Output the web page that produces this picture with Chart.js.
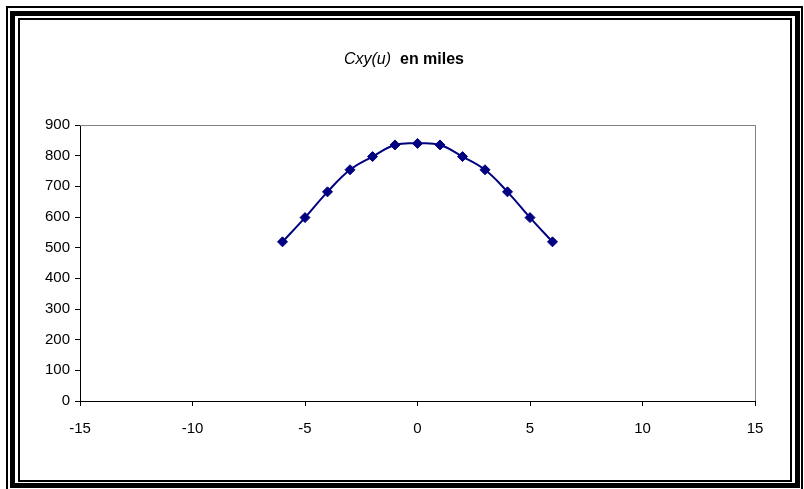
<!DOCTYPE html>
<html>
<head>
<meta charset="utf-8">
<script src="https://cdn.jsdelivr.net/npm/chart.js@4/dist/chart.umd.min.js"></script>
<style>
  html, body { margin: 0; padding: 0; background: #fff; }
  #wrap { position: relative; width: 804px; height: 489px; overflow: hidden; background: #fff; }
  canvas { position: absolute; left: 0; top: 0; }
  .fr { position: absolute; box-sizing: border-box; border-style: solid; border-color: #000; pointer-events: none; }
  #title { position: absolute; left: 2px; width: 804px; top: 50px; text-align: center; font-family: "Liberation Sans", Arial, sans-serif; font-size: 16px; line-height: 18px; color: #000; }
  #title .it { font-style: italic; }
  #title .bd { font-weight: bold; }
</style>
</head>
<body>
<div id="wrap">
  <canvas id="c" width="804" height="489"></canvas>
  <div class="fr" style="left:6px; top:6px; width:797px; height:490px; border-width:2px;"></div>
  <div class="fr" style="left:10px; top:11px; width:790px; height:477px; border-width:5px;"></div>
  <div class="fr" style="left:18px; top:18px; width:774px; height:464px; border-width:2px;"></div>
  <div id="title"><span class="it">Cxy(u)</span>&nbsp;&nbsp;<span class="bd">en miles</span></div>
</div>
<script>
const xValues = [-6, -5, -4, -3, -2, -1, 0, 1, 2, 3, 4, 5, 6];
const yValues = [519, 598, 682, 754, 797, 835, 840, 835, 797, 754, 682, 598, 519];
const xTickRange = [-15, 15, 5];
const yTickRange = [0, 900, 100];

const points = xValues.map((x, i) => ({ x: x, y: yValues[i] }));

const plotFrame = {
  id: 'plotFrame',
  beforeDatasetsDraw(chart) {
    const a = chart.chartArea, ctx = chart.ctx;
    ctx.save();
    ctx.strokeStyle = '#808080';
    ctx.lineWidth = 1;
    ctx.beginPath();
    ctx.moveTo(a.left, a.top + 0.5);
    ctx.lineTo(a.right + 0.5, a.top + 0.5);
    ctx.lineTo(a.right + 0.5, a.bottom);
    ctx.stroke();
    ctx.restore();
  }
};

const tickFont = { family: '"Liberation Sans", Arial, sans-serif', size: 15 };

new Chart(document.getElementById('c'), {
  type: 'scatter',
  data: {
    datasets: [{
      data: points,
      showLine: true,
      borderColor: '#000080',
      backgroundColor: '#000080',
      borderWidth: 2,
      tension: 0.4,
      pointStyle: 'rectRot',
      pointRadius: 5,
      pointBorderWidth: 1,
      pointBorderColor: '#000080',
      pointBackgroundColor: '#000080'
    }]
  },
  options: {
    responsive: false,
    animation: false,
    layout: { padding: { top: 125, right: 49, left: 0, bottom: 0 } },
    plugins: { legend: { display: false }, tooltip: { enabled: false }, title: { display: false } },
    scales: {
      x: {
        type: 'linear',
        min: xTickRange[0], max: xTickRange[1],
        afterFit(s) { s.height = 88; },
        ticks: { stepSize: xTickRange[2], color: '#000', font: tickFont, padding: 14, maxRotation: 0 },
        grid: { drawOnChartArea: false, drawTicks: true, tickLength: 5, color: '#000' },
        border: { color: '#000', width: 1 }
      },
      y: {
        type: 'linear',
        min: yTickRange[0], max: yTickRange[1],
        afterFit(s) { s.width = 80; },
        ticks: { stepSize: yTickRange[2], color: '#000', font: tickFont, padding: 5 },
        grid: { drawOnChartArea: false, drawTicks: true, tickLength: 5, color: '#000' },
        border: { color: '#000', width: 1 }
      }
    }
  },
  plugins: [plotFrame]
});
</script>
</body>
</html>
